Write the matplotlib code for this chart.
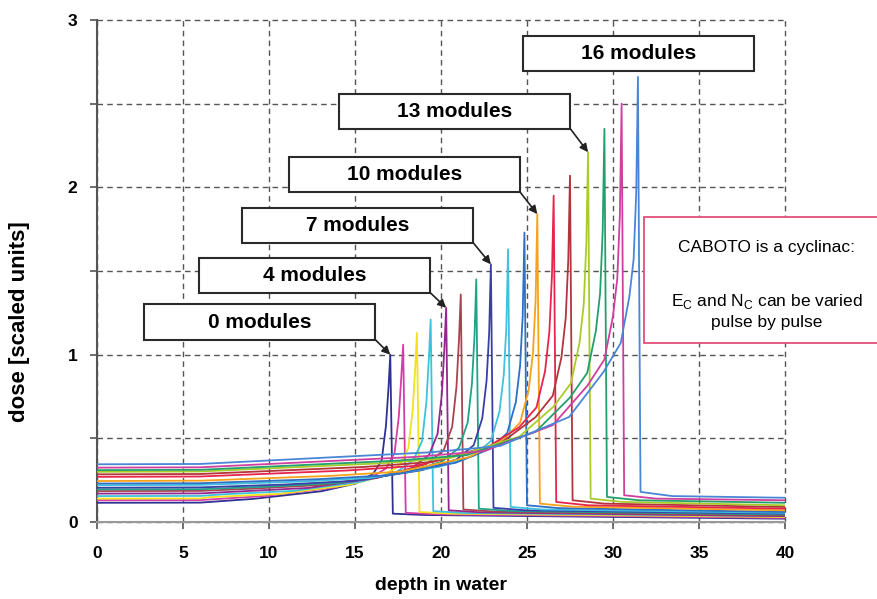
import numpy as np
import matplotlib
matplotlib.use("Agg")
import matplotlib.pyplot as plt
from matplotlib.patches import Rectangle

plt.rcParams['font.family'] = ['Liberation Sans', 'DejaVu Sans']
plt.rcParams['mathtext.fontset'] = 'custom'
plt.rcParams['mathtext.rm'] = 'Liberation Sans'

# depth-dose curves, one per number of modules (0..16)
depth_pts = [
    [0, 6, 9.05, 13.05, 15.05, 16.05, 16.55, 16.8, 16.95, 17.05, 17.12, 17.2, 19.05, 40],
    [0, 6, 9.8, 13.8, 15.8, 16.8, 17.3, 17.55, 17.7, 17.8, 17.87, 17.95, 19.8, 40],
    [0, 6, 6.6, 10.6, 14.6, 16.6, 17.6, 18.1, 18.35, 18.5, 18.6, 18.67, 18.75, 20.6, 40],
    [0, 6, 7.4, 11.4, 15.4, 17.4, 18.4, 18.9, 19.15, 19.3, 19.4, 19.47, 19.55, 21.4, 40],
    [0, 6, 8.3, 12.3, 16.3, 18.3, 19.3, 19.8, 20.05, 20.2, 20.3, 20.37, 20.45, 22.3, 40],
    [0, 6, 9.15, 13.15, 17.15, 19.15, 20.15, 20.65, 20.9, 21.05, 21.15, 21.22, 21.3, 23.15, 40],
    [0, 6, 10.05, 14.05, 18.05, 20.05, 21.05, 21.55, 21.8, 21.95, 22.05, 22.12, 22.2, 24.05, 40],
    [0, 6, 10.9, 14.9, 18.9, 20.9, 21.9, 22.4, 22.65, 22.8, 22.9, 22.97, 23.05, 24.9, 40],
    [0, 6, 11.9, 15.9, 19.9, 21.9, 22.9, 23.4, 23.65, 23.8, 23.9, 23.97, 24.05, 25.9, 40],
    [0, 6, 12.85, 16.85, 20.85, 22.85, 23.85, 24.35, 24.6, 24.75, 24.85, 24.92, 25.0, 26.85, 40],
    [0, 6, 13.6, 17.6, 21.6, 23.6, 24.6, 25.1, 25.35, 25.5, 25.6, 25.67, 25.75, 27.6, 40],
    [0, 6, 14.55, 18.55, 22.55, 24.55, 25.55, 26.05, 26.3, 26.45, 26.55, 26.62, 26.7, 28.55, 40],
    [0, 6, 15.5, 19.5, 23.5, 25.5, 26.5, 27.0, 27.25, 27.4, 27.5, 27.57, 27.65, 29.5, 40],
    [0, 6, 16.55, 20.55, 24.55, 26.55, 27.55, 28.05, 28.3, 28.45, 28.55, 28.62, 28.7, 30.55, 40],
    [0, 6, 17.5, 21.5, 25.5, 27.5, 28.5, 29.0, 29.25, 29.4, 29.5, 29.57, 29.65, 31.5, 40],
    [0, 6, 18.5, 22.5, 26.5, 28.5, 29.5, 30.0, 30.25, 30.4, 30.5, 30.57, 30.65, 32.5, 40],
    [0, 6, 19.45, 23.45, 27.45, 29.45, 30.45, 30.95, 31.2, 31.35, 31.45, 31.52, 31.6, 33.45, 40],
]
dose_pts = [
    [0.115, 0.116, 0.138, 0.184, 0.23, 0.288, 0.368, 0.575, 0.805, 1.0, 0.55, 0.05, 0.042, 0.02],
    [0.13, 0.131, 0.156, 0.206, 0.257, 0.32, 0.413, 0.634, 0.883, 1.06, 0.58, 0.055, 0.046, 0.025],
    [0.14, 0.141, 0.149, 0.168, 0.221, 0.273, 0.34, 0.441, 0.665, 0.921, 1.13, 0.62, 0.06, 0.05, 0.03],
    [0.155, 0.156, 0.166, 0.186, 0.242, 0.298, 0.37, 0.484, 0.717, 0.986, 1.21, 0.66, 0.065, 0.054, 0.035],
    [0.17, 0.171, 0.183, 0.204, 0.264, 0.323, 0.4, 0.527, 0.765, 1.046, 1.28, 0.7, 0.07, 0.058, 0.035],
    [0.185, 0.186, 0.2, 0.222, 0.284, 0.347, 0.428, 0.569, 0.809, 1.099, 1.36, 0.75, 0.075, 0.062, 0.04],
    [0.195, 0.196, 0.212, 0.234, 0.297, 0.361, 0.444, 0.595, 0.829, 1.116, 1.45, 0.8, 0.08, 0.066, 0.045],
    [0.205, 0.207, 0.224, 0.246, 0.31, 0.374, 0.459, 0.62, 0.846, 1.13, 1.54, 0.85, 0.085, 0.07, 0.05],
    [0.22, 0.222, 0.242, 0.264, 0.33, 0.396, 0.484, 0.66, 0.88, 1.166, 1.63, 0.9, 0.09, 0.075, 0.055],
    [0.23, 0.232, 0.256, 0.279, 0.354, 0.437, 0.532, 0.716, 0.936, 1.231, 1.73, 0.95, 0.1, 0.083, 0.06],
    [0.245, 0.247, 0.276, 0.301, 0.387, 0.49, 0.594, 0.79, 1.014, 1.323, 1.84, 1.0, 0.11, 0.092, 0.07],
    [0.27, 0.272, 0.308, 0.336, 0.437, 0.567, 0.685, 0.901, 1.137, 1.472, 1.95, 1.07, 0.12, 0.1, 0.08],
    [0.285, 0.287, 0.329, 0.359, 0.473, 0.627, 0.755, 0.983, 1.218, 1.568, 2.07, 1.14, 0.13, 0.11, 0.09],
    [0.3, 0.302, 0.351, 0.383, 0.51, 0.69, 0.829, 1.069, 1.302, 1.665, 2.21, 1.22, 0.14, 0.12, 0.1],
    [0.31, 0.312, 0.367, 0.4, 0.539, 0.744, 0.891, 1.139, 1.367, 1.736, 2.35, 1.29, 0.15, 0.13, 0.115],
    [0.325, 0.327, 0.389, 0.424, 0.579, 0.813, 0.971, 1.231, 1.456, 1.836, 2.5, 1.38, 0.16, 0.14, 0.13],
    [0.345, 0.347, 0.417, 0.455, 0.628, 0.897, 1.07, 1.346, 1.57, 1.967, 2.66, 1.46, 0.18, 0.155, 0.145],
]
line_colors = ['#2e3192', '#d63ca8', '#f2e31b', '#3cc3dc', '#93278f', '#a8434f',
               '#1fa38a', '#3a3fa8', '#3fc1e0', '#2f6fc4', '#f7a21b', '#e8244a',
               '#b5343c', '#a8cc2a', '#22a06b', '#cf3fa0', '#4a86d6']

labeled_modules = [0, 4, 7, 10, 13, 16]
label_texts = ['0 modules', '4 modules', '7 modules', '10 modules', '13 modules', '16 modules']
# box corners (lower left) in data units
box_x0 = [2.73, 5.93, 8.43, 11.16, 14.07, 24.77]
box_y0 = [1.09, 1.37, 1.668, 1.97, 2.35, 2.696]
BOX_W, BOX_H = 13.45, 0.21

xticks = [0, 5, 10, 15, 20, 25, 30, 35, 40]
yticks = [0, 0.5, 1, 1.5, 2, 2.5, 3]
ytick_labels = ['0', '', '1', '', '2', '', '3']

fig = plt.figure(figsize=(8.77, 5.99), dpi=100)
ax = fig.add_axes([0.1106, 0.1285, 0.7845, 0.8381])

for k in range(len(depth_pts)):
    ax.plot(depth_pts[k], dose_pts[k], color=line_colors[k], lw=1.3, zorder=3)

ax.set_xlim(0, 40)
ax.set_ylim(0, 3)
ax.set_xticks(xticks)
ax.set_yticks(yticks)
ax.set_yticklabels(ytick_labels)
ax.grid(True, color='#555555', ls=(0, (4, 3)), lw=1.0, zorder=1)
for gl in ax.get_xgridlines() + ax.get_ygridlines():
    gl.set_clip_on(False)
for side in ['top', 'right']:
    ax.spines[side].set_visible(False)
ax.spines['left'].set_color('#555555')
ax.spines['left'].set_linewidth(1.5)
ax.spines['bottom'].set_color('#999999')
ax.spines['bottom'].set_linewidth(1.5)
ax.tick_params(axis='both', direction='out', length=5, width=1.2, color='#555555',
               labelsize=12.5)
ax.tick_params(axis='x', pad=12)
ax.tick_params(axis='y', pad=9)
for lab in ax.get_xticklabels() + ax.get_yticklabels():
    lab.set_fontweight('bold')

ax.set_xlabel('depth in water', fontsize=14, fontweight='bold')
ax.xaxis.set_label_coords(0.5, -0.11)
ax.set_ylabel('dose [scaled units]', fontsize=16, fontweight='bold')
ax.yaxis.set_label_coords(-0.097, 0.40)

# labelled boxes with arrows to the peaks
for i, k in enumerate(labeled_modules):
    ax.add_patch(Rectangle((box_x0[i], box_y0[i]), BOX_W, BOX_H, facecolor='white',
                           edgecolor='#2a2a2a', lw=1.5, zorder=5))
    ax.text(box_x0[i] + BOX_W / 2, box_y0[i] + BOX_H / 2, label_texts[i],
            ha='center', va='center', fontsize=15, fontweight='bold', zorder=6)
    if k != 16:
        j = int(np.argmax(dose_pts[k]))
        ax.annotate('', xy=(depth_pts[k][j], dose_pts[k][j]),
                    xytext=(box_x0[i] + BOX_W, box_y0[i]),
                    arrowprops=dict(arrowstyle='-|>', color='#222222', lw=1.2,
                                    mutation_scale=12, shrinkA=0, shrinkB=0),
                    zorder=6)

# note box on the right
ax.add_patch(Rectangle((31.8, 1.07), 14.0, 0.75, facecolor='white', edgecolor='#e0507a',
                       lw=1.3, zorder=5, clip_on=False))
ax.text(38.95, 1.638, 'CABOTO is a cyclinac:', ha='center', va='center', fontsize=12.5,
        zorder=6, clip_on=False)
ax.text(38.95, 1.315, r'E$_\mathrm{C}$ and N$_\mathrm{C}$ can be varied', ha='center',
        va='center', fontsize=12.5, zorder=6, clip_on=False)
ax.text(38.95, 1.19, 'pulse by pulse', ha='center', va='center', fontsize=12.5,
        zorder=6, clip_on=False)

fig.savefig('out.png', dpi=100)
